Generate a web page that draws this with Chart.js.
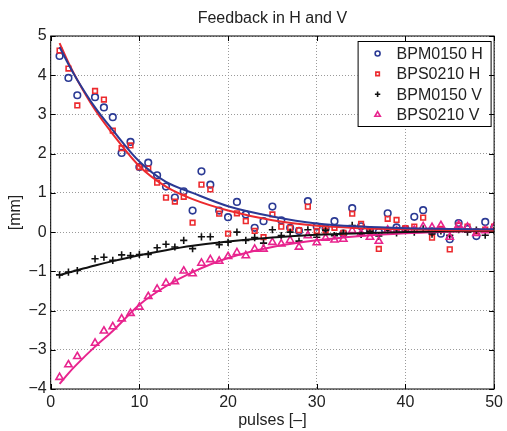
<!DOCTYPE html>
<html lang="en">
<head>
  <meta charset="UTF-8" />
  <title>Feedback in H and V</title>
  <style>
    body { margin: 0; background: #fff; }
    #wrap { width: 507px; height: 431px; }
  </style>
</head>
<body>
  <div id="wrap"><canvas id="chart" width="507" height="431"></canvas></div>

  <script src="https://cdn.jsdelivr.net/npm/chart.js"></script>
  <script>
    // pulse numbers (no pulse 4 in the measurement)
    const pulses = [1,2,3,5,6,7,8,9,10,11,12,13,14,15,16,17,18,19,20,21,22,23,24,25,26,27,28,29,
                    30,31,32,33,34,35,36,37,38,39,40,41,42,43,44,45,46,47,48,49,50];

    // measured offsets [mm]
    const bpm0150H = [4.49,3.93,3.49, 3.44,3.18,2.93,2.02,2.30,1.66,1.77,1.45,1.16,0.88,1.04,0.55,
                      1.55,1.21,0.55,0.38,0.77,0.45,0.11,0.28,0.65,0.30,0.11,0.03,0.79,
                      0.14,0.10,0.28,-0.04,0.61,0.15,0.05,0.00,0.48,0.12,0.08,0.39,0.56,0.02,-0.04,-0.18,0.23,0.08,-0.10,0.26,0.10];
    const bps0210H = [4.63,4.17,3.23, 3.60,3.38,2.59,2.14,2.21,1.66,1.62,1.26,0.88,0.78,0.90,0.24,
                      1.21,1.09,0.47,-0.04,0.48,0.28,0.03,-0.13,0.45,0.14,0.11,0.05,0.65,
                      0.03,0.04,0.11,-0.02,0.47,0.21,0.02,-0.43,0.34,0.31,0.10,0.14,0.37,-0.14,0.08,-0.44,0.17,0.14,0.02,0.06,0.14];
    const bpm0150V = [-1.09,-1.02,-0.98, -0.68,-0.64,-0.72,-0.58,-0.60,-0.57,-0.57,-0.40,-0.31,-0.38,-0.21,-0.42,
                      -0.12,-0.12,-0.32,-0.26,0.00,-0.21,-0.14,-0.28,0.06,-0.09,0.00,-0.23,0.06,
                      -0.13,0.05,-0.09,-0.03,0.17,-0.06,0.02,-0.10,0.05,-0.02,0.04,0.00,0.08,-0.05,0.03,-0.08,0.06,0.00,0.05,-0.08,0.04];
    const bps0210V = [-3.70,-3.38,-3.17, -2.83,-2.52,-2.41,-2.21,-2.07,-1.91,-1.64,-1.45,-1.30,-1.26,-0.99,-1.06,
                      -0.79,-0.70,-0.74,-0.62,-0.52,-0.60,-0.43,-0.43,-0.26,-0.30,-0.21,-0.38,-0.09,
                      -0.27,-0.15,-0.20,-0.18,0.04,-0.03,-0.13,-0.23,0.05,0.03,0.03,0.05,0.14,0.12,0.17,-0.13,0.18,0.13,-0.03,0.04,0.14];

    // fitted curves
    const fitX     = [1,2,3,5,7,10,13,16,20,25,30,35,40,45,50];
    const fitBpmH  = [4.72,4.28,3.88,3.18,2.60,1.80,1.28,1.00,0.66,0.40,0.22,0.14,0.10,0.08,0.07];
    const fitBpsH  = [4.82,4.32,3.88,3.12,2.50,1.68,1.16,0.84,0.55,0.30,0.16,0.10,0.07,0.05,0.04];
    const fitBpmV  = [-1.10,-1.03,-0.97,-0.85,-0.74,-0.59,-0.46,-0.35,-0.24,-0.14,-0.07,-0.03,0.00,0.02,0.03];
    const fitBpsV  = [-3.87,-3.60,-3.36,-2.92,-2.52,-1.85,-1.38,-1.02,-0.66,-0.38,-0.21,-0.10,-0.03,0.01,0.04];

    const BLUE = '#2b3a94', RED = '#ec2a2e', BLACK = '#111111', MAGENTA = '#e8248e';
    const FONT = '"Liberation Sans", Arial, Helvetica, sans-serif';

    const pts = (xs, ys) => xs.map((x, i) => ({ x: x, y: ys[i] }));

    function markers(label, ys, color, style, r, order) {
      return {
        label: label, data: pts(pulses, ys), inLegend: true, showLine: false,
        pointStyle: style, pointRadius: r, pointHoverRadius: r, borderWidth: 1.6,
        borderColor: color, backgroundColor: 'rgba(0,0,0,0)', order: order
      };
    }
    function fitLine(ys, color) {
      return {
        label: '', data: pts(fitX, ys), showLine: true, pointRadius: 0,
        borderColor: color, borderWidth: 2, cubicInterpolationMode: 'monotone',
        backgroundColor: color, order: 0
      };
    }

    // legend drawn inside the axes, top right
    const legendBox = {
      id: 'legendBox',
      afterDraw(chart) {
        const { ctx, chartArea } = chart;
        const items = chart.data.datasets.filter(d => d.inLegend);
        const w = 133, h = 85;
        const x0 = chartArea.right - 3.5 - w, y0 = chartArea.top + 5;
        ctx.save();
        ctx.fillStyle = '#fff';
        ctx.fillRect(x0, y0, w, h);
        ctx.strokeStyle = '#000';
        ctx.lineWidth = 1;
        ctx.strokeRect(x0 + 0.5, y0 + 0.5, w, h);
        ctx.font = '16px ' + FONT;
        ctx.textBaseline = 'middle';
        items.forEach((d, i) => {
          const y = y0 + 12.5 + i * 20.4;
          ctx.strokeStyle = d.borderColor;
          ctx.fillStyle = d.backgroundColor;
          ctx.lineWidth = d.borderWidth;
          Chart.helpers.drawPoint(ctx, { pointStyle: d.pointStyle, radius: d.pointRadius * 0.75, borderWidth: d.borderWidth, rotation: 0 }, x0 + 20, y);
          ctx.fillStyle = '#222';
          ctx.fillText(d.label, x0 + 39, y + 1);
        });
        ctx.restore();
      }
    };

    // box around the axes with inward ticks on all four sides
    const frame = {
      id: 'frame',
      afterDraw(chart) {
        const { ctx, chartArea: a, scales } = chart;
        ctx.save();
        ctx.strokeStyle = '#000';
        ctx.lineWidth = 1;
        ctx.strokeRect(a.left, a.top, a.right - a.left, a.bottom - a.top);
        ctx.beginPath();
        scales.x.ticks.forEach(t => {
          const px = Math.round(scales.x.getPixelForValue(t.value)) + 0.5;
          ctx.moveTo(px, a.bottom); ctx.lineTo(px, a.bottom - 5);
          ctx.moveTo(px, a.top); ctx.lineTo(px, a.top + 5);
        });
        scales.y.ticks.forEach(t => {
          const py = Math.round(scales.y.getPixelForValue(t.value)) + 0.5;
          ctx.moveTo(a.left, py); ctx.lineTo(a.left + 5, py);
          ctx.moveTo(a.right, py); ctx.lineTo(a.right - 5, py);
        });
        ctx.stroke();
        ctx.restore();
      }
    };

    Chart.defaults.font.family = FONT;
    Chart.defaults.font.size = 16;
    Chart.defaults.color = '#222';

    new Chart(document.getElementById('chart'), {
      type: 'scatter',
      data: {
        datasets: [
          fitLine(fitBpmH, BLUE),
          fitLine(fitBpsH, RED),
          fitLine(fitBpmV, BLACK),
          fitLine(fitBpsV, MAGENTA),
          markers('BPM0150 H', bpm0150H, BLUE, 'circle', 3.3, 4),
          markers('BPS0210 H', bps0210H, RED, 'rect', 3.3, 3),
          markers('BPM0150 V', bpm0150V, BLACK, 'cross', 3.6, 2),
          markers('BPS0210 V', bps0210V, MAGENTA, 'triangle', 4.2, 1)
        ]
      },
      options: {
        responsive: false,
        animation: false,
        events: [],
        layout: { padding: { left: 0, right: 10, top: 0, bottom: 0 } },
        plugins: {
          legend: { display: false },
          tooltip: { enabled: false },
          title: {
            display: true, text: 'Feedback in H and V', fullSize: false,
            font: { size: 16, weight: 'normal' }, color: '#222',
            padding: { top: 9, bottom: 7.8 }
          }
        },
        scales: {
          x: {
            type: 'linear', min: 0, max: 50,
            afterFit: s => { s.height = 42; },
            ticks: { stepSize: 10, padding: 4 },
            grid: { color: '#9a9a9a', drawTicks: false },
            border: { display: false, dash: [1, 2] },
            title: { display: true, text: 'pulses [–]', padding: { top: 0, bottom: 1 } }
          },
          y: {
            min: -4, max: 5,
            afterFit: s => { s.width = 50.7; },
            ticks: { stepSize: 1, padding: 4, callback: v => String(v).replace('-', '−') },
            grid: { color: '#9a9a9a', drawTicks: false },
            border: { display: false, dash: [1, 2] },
            title: { display: true, text: '[mm]', padding: { top: 6, bottom: 0 } }
          }
        }
      },
      plugins: [legendBox, frame]
    });
  </script>
</body>
</html>
